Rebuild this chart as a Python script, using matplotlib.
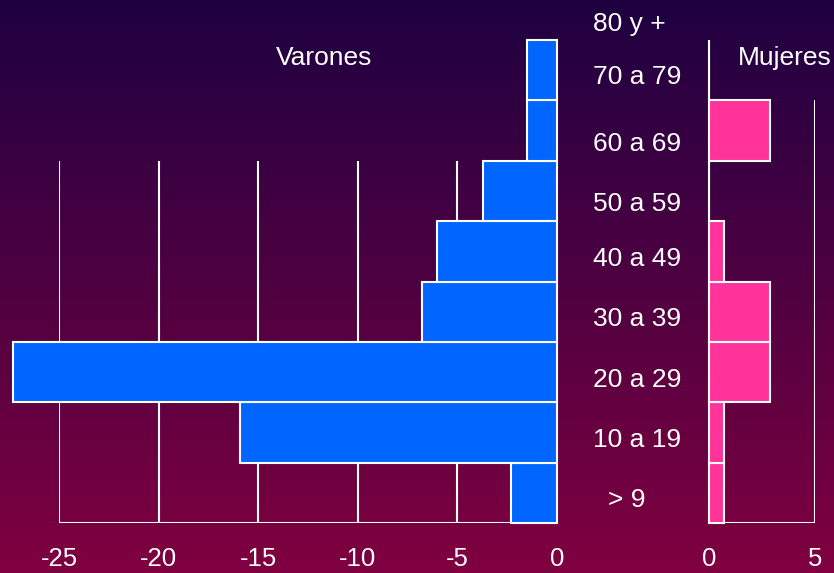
import numpy as np
import matplotlib.pyplot as plt
from matplotlib.colors import LinearSegmentedColormap

plt.rcParams['font.family'] = ['Liberation Sans', 'DejaVu Sans']
plt.rcParams['axes.unicode_minus'] = False

# datos
edades = ["> 9", "10 a 19", "20 a 29", "30 a 39", "40 a 49",
          "50 a 59", "60 a 69", "70 a 79", "80 y +"]
varones = [2.3, 15.9, 27.3, 6.8, 6.0, 3.7, 1.5, 1.5]
mujeres = [0.7, 0.7, 2.9, 2.9, 0.7, 0, 2.9, 0]
ticks_v = [-25, -20, -15, -10, -5, 0]
ticks_m = [0, 5]

W, H = 834, 573
fig = plt.figure(figsize=(W / 100, H / 100), dpi=100)

# fondo degradado
bg = fig.add_axes([0, 0, 1, 1], zorder=-10)
cmap = LinearSegmentedColormap.from_list("fondo", ["#1e0042", "#800040"])
bg.imshow(np.linspace(0, 1, 256).reshape(-1, 1), aspect="auto", cmap=cmap,
          extent=[0, 1, 0, 1])
bg.set_axis_off()

y = np.arange(len(varones))
bot = (H - 523) / H
hgt = 483 / H

axL = fig.add_axes([59 / W, bot, (557 - 59) / W, hgt])
axR = fig.add_axes([709 / W, bot, (815 - 709) / W, hgt])

for ax in (axL, axR):
    ax.patch.set_alpha(0)
    for s in ax.spines.values():
        s.set_visible(False)
    ax.set_ylim(-0.5, 7.5)
    ax.set_yticks([])
    ax.tick_params(axis="x", length=0, colors="white", labelsize=18.5, pad=17)

# varones
axL.set_xlim(-25, 0)
axL.set_xticks(ticks_v)
axL.vlines(ticks_v[:-1], -0.5, 5.5, color="white", lw=1.5, zorder=1)
axL.hlines(-0.5, -25, 0, color="white", lw=1.5, zorder=1)
axL.barh(y, [-v for v in varones], height=1, color="#0066ff",
         edgecolor="white", linewidth=1.5, zorder=2, clip_on=False)

# mujeres
axR.set_xlim(0, 5)
axR.set_xticks(ticks_m)
axR.vlines(0, -0.5, 7.5, color="white", lw=1.5, zorder=1)
axR.vlines(5, -0.5, 6.5, color="white", lw=1.5, zorder=1)
axR.hlines(-0.5, 0, 5, color="white", lw=1.5, zorder=1)
axR.barh(y, mujeres, height=1, color="#ff3399",
         edgecolor="white", linewidth=1.5, zorder=2, clip_on=False)

# etiquetas de edad (posicion en pixeles, desde arriba)
lab_y = [500, 440, 380, 319, 259, 204, 144, 77, 24]
for e, py in zip(edades, lab_y):
    px = 608 if e == "> 9" else 593
    fig.text(px / W, 1 - py / H, e, color="white", fontsize=19,
             ha="left", va="center")

fig.text(324 / W, 1 - 58 / H, "Varones", color="white", fontsize=19,
         ha="center", va="center")
fig.text(785 / W, 1 - 58 / H, "Mujeres", color="white", fontsize=19,
         ha="center", va="center")

fig.savefig("out.png", dpi=100)
